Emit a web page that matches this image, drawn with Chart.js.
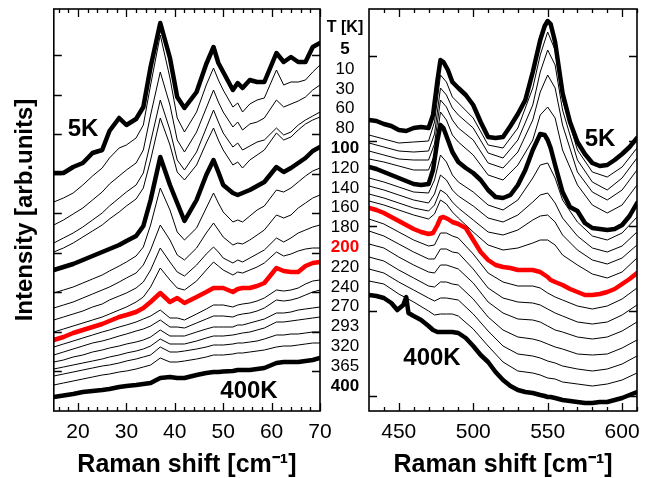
<!DOCTYPE html>
<html><head><meta charset="utf-8">
<script src="https://cdn.jsdelivr.net/npm/chart.js@4.4.1/dist/chart.umd.min.js"></script>
<style>
html,body{margin:0;padding:0;background:#fff;}
#wrap{position:relative;width:658px;height:478px;overflow:hidden;font-family:"Liberation Sans",Arial,Helvetica,sans-serif;color:#000;}
canvas{position:absolute;top:0;}
#c1{left:0}
#c2{left:340px}
.lab{position:absolute;transform:translate(-50%,-50%);white-space:nowrap;line-height:1;}
</style></head><body>
<div id="wrap">
<canvas id="c1" width="345" height="478"></canvas>
<canvas id="c2" width="318" height="478"></canvas>
</div>
<script>
// ---------- data ----------
const temps = ['5','10','30','60','80','100','120','140','160','180','200','220','240','270','293','320','365','400'];

const leftX = [15,17,19,21,23,25,26.5,28.5,30,32,33.5,35,37,39,40.5,42,44.5,46.5,48,49,50,52,53,54,55.5,57,58.5,61,62.5,64,65.5,67,68.5,70];
const L5   = [238,238,244,248,258,261,280,293,286,292,304,344,388,353,314,303,319,347,364,348,339,321,328,323,331,329,329,358,349,354,349,349,364,368];
const L10  = [209,213,218,226,235,243,253,263,266,273,286,326,376,333,293,279,299,326,343,331,321,304,308,299,307,311,313,341,326,329,329,331,339,346];
const L30  = [186,191,197,203,211,219,227,235,241,248,261,296,339,306,271,259,279,303,321,309,299,284,289,281,287,289,293,311,304,307,310,314,321,326];
const L60  = [168,173,178,184,191,198,205,213,219,226,238,269,311,281,251,241,259,283,301,289,278,264,268,261,265,269,271,283,276,279,286,291,295,299];
const L80  = [159,163,168,174,180,186,192,199,205,212,223,251,293,266,239,231,246,268,283,271,261,246,249,243,251,256,261,278,271,274,281,287,291,294];
const L100 = [141,144,147,151,155,159,162,166,170,175,185,211,254,226,208,190,211,236,251,239,226,218,216,218,221,225,229,244,239,243,248,253,260,264];
const L120 = [118,121,124,128,132,136,140,145,149,155,164,186,223,201,179,171,183,203,218,208,199,189,191,189,195,201,205,221,219,223,229,235,240,243];
const L140 = [103,106,109,113,117,121,124,129,133,138,146,161,186,171,156,151,163,178,188,181,174,166,168,167,171,176,181,196,193,196,203,208,213,216];
const L160 = [91,94,97,100,104,107,111,115,118,123,129,141,163,149,139,135,146,157,164,159,153,148,151,149,153,157,161,173,169,173,178,181,184,186];
const L180 = [79,82,85,88,91,94,97,101,104,109,114,124,143,131,123,121,130,141,149,145,141,136,139,138,141,144,148,159,155,157,160,162,163,163];
const L200 = [71,74,78,81,84,87,90,94,96,99,103,109,118,109,113,108,114,119,123,123,123,119,122,123,123,125,128,143,140,139,139,145,148,149];
const L220 = [64,67,70,73,76,79,81,84,86,89,92,95,101,93,93,91,97,102,106,106,106,104,106,107,108,110,113,121,120,121,123,127,130,131];
const L240 = [56,59,62,65,68,70,72,75,77,80,82,85,91,84,84,83,88,92,95,95,95,94,96,97,98,100,103,111,110,111,113,116,119,121];
const L270 = [49,51,54,56,59,61,63,65,67,69,71,74,81,75,75,75,79,82,84,84,84,84,86,86,88,90,92,98,98,99,101,102,103,104];
const L293 = [42,44,46,48,50,52,54,56,58,60,62,65,72,67,67,67,70,73,75,75,75,76,77,78,79,81,83,89,89,90,91,92,93,94];
const L320 = [35,37,39,41,43,45,46,48,50,52,54,56,64,59,59,60,62,64,66,66,66,67,68,68,69,70,72,76,76,77,77,78,79,79];
const L365 = [26,28,30,32,34,36,37,39,40,42,44,46,53,49,49,50,52,54,56,56,56,57,58,58,59,60,61,64,65,65,66,67,68,68];
const L400 = [14,15.5,17,19,20,21,22,24,25,26,27,28,33,34,33,33,36,38,39,39,39.5,40,41,41,41,42,43,48,49,49,49,50,51,53];

const rightX = [430,435,440,445,450,455,460,465,470,473,476,478,480,483,486,490,495,500,505,510,515,520,525,530,535,540,545,548,550,552,555,560,565,570,575,580,585,590,595,600,605,610];
const rightXThin = [430,440,450,460,470,474,478,482,486,490,500,510,520,530,540,545,550,555,560,570,580,590,600,610];
const right400X = [430,435,440,445,449,453,455,456.5,460,465,470,473,476,478,480,483,486,490,495,500,505,510,515,520,525,530,535,540,545,548,550,552,555,560,565,570,575,580,585,590,595,600,605,610];
const R5   = [291,290,287,285,281,280,283,284,283,296,331,351,349,341,329,323,316,306,289,274,273,274,285,297,311,339,371,385,390,387,369,318,289,269,257,248,245,246,251,257,264,273];
const R10  = [276,272,268,269,270,289,336,329,314,308,293,266,263,283,323,356,379,361,311,261,239,234,244,263];
const R30  = [268,264,260,259,260,277,323,316,303,296,283,258,253,271,306,339,361,346,301,251,229,221,233,253];
const R60  = [260,256,252,251,251,267,311,304,291,283,271,248,243,259,291,319,336,323,286,239,219,211,221,241];
const R80  = [252,249,245,241,241,256,299,291,276,269,256,236,231,246,271,296,304,293,261,226,206,198,206,226];
const R100 = [244,242,239,236,233,230,227,226,227,241,271,286,283,271,259,249,243,238,231,221,214,213,216,226,241,261,277,276,271,263,246,219,204,200,188,183,182,181,182,186,195,208];
const R120 = [233,229,224,219,218,231,256,249,236,229,219,206,201,211,233,246,248,233,211,189,175,171,178,194];
const R140 = [225,221,216,211,208,217,236,231,221,215,205,193,189,196,209,216,218,208,193,175,163,159,165,179];
const R160 = [217,213,208,203,200,206,221,217,209,203,191,179,176,181,191,195,196,189,176,161,151,147,153,166];
const R180 = [210,206,201,196,192,197,211,207,199,193,179,166,161,163,168,171,171,166,156,146,137,133,139,153];
const R200 = [203,201,198,194,190,186,182,179,177,178,186,193,194,192,189,187,183,171,159,151,146,144,143,141,141,141,139,136,134,131,129,126,122,119,116,116,117,119,122,127,132,138];
const R220 = [192,187,179,171,165,166,178,178,175,173,157,138,129,125,125,123,118,114,111,105,102,105,112,123];
const R240 = [180,175,167,159,152,152,162,162,159,158,142,123,113,109,108,106,102,98,95,89,87,89,96,106];
const R270 = [167,163,154,146,139,138,146,146,144,142,128,109,98,92,91,89,85,81,79,74,72,74,80,89];
const R293 = [154,150,141,133,125,124,129,129,127,126,112,94,81,74,72,70,67,64,62,57,56,57,63,71];
const R320 = [142,138,129,121,113,110,113,113,112,111,97,80,65,57,55,53,50,48,45,42,40,42,47,55];
const R365 = [130,127,117,109,100,96,97,97,97,95,82,65,49,40,38,36,33,32,29,27,25,27,31,38];
const R400 = [116,115,113,108,101,106,114,98,95,91,85,81,79,79,79,79,79,78,73,65,56,49,39,31,25,21,19,18,16,15,14,14,13,11,10,9,8,8,9,9,11,13,16,19];

const leftXMajor = [20,30,40,50,60,70];
const rightXMajor = [450,500,550,600];
const leftYTicks = [40,79.5,119,158.5,198,237.5,277,316.5,356];
const rightYTicks = [15,100,185,270,355];

const leftList  = [L5,L10,L30,L60,L80,L100,L120,L140,L160,L180,L200,L220,L240,L270,L293,L320,L365,L400];
const rightList = [R5,R10,R30,R60,R80,R100,R120,R140,R160,R180,R200,R220,R240,R270,R293,R320,R365,R400];

// ---------- helpers ----------
const F = '"Liberation Sans", Arial, Helvetica, sans-serif';
function styleFor(t){
  if (t === '200') return {c:'#ff0000', w:4.5, o:0};
  if (t === '5' || t === '100' || t === '400') return {c:'#000000', w:4.5, o:0};
  return {c:'#000000', w:1, o:1};
}
function makeDatasets(list, xsFor){
  return temps.map((t,i)=>{
    const s = styleFor(t), xs = xsFor(t);
    return {label: t+' K', data: list[i].map((y,j)=>({x:xs[j], y:y})),
      borderColor:s.c, backgroundColor:s.c, borderWidth:s.w, order:s.o,
      pointRadius:0, tension:0, fill:false, borderJoinStyle:'round', borderCapStyle:'round'};
  });
}
function minorList(a,b,step){ const r=[]; for(let v=a; v<=b+1e-9; v+=step) r.push(v); return r; }

const framePlugin = {
  id:'frame',
  afterDatasetsDraw(chart, args, opts){
    const {ctx, chartArea:a} = chart; const x = chart.scales.x, y = chart.scales.y;
    ctx.save();
    ctx.strokeStyle = '#000';
    ctx.lineWidth = 1.3;
    ctx.beginPath();
    opts.xMinor.forEach(v=>{ const p = Math.round(x.getPixelForValue(v))+0.5;
      ctx.moveTo(p,a.bottom); ctx.lineTo(p,a.bottom-4); ctx.moveTo(p,a.top); ctx.lineTo(p,a.top+4); });
    opts.xMajor.forEach(v=>{ const p = Math.round(x.getPixelForValue(v))+0.5;
      ctx.moveTo(p,a.bottom); ctx.lineTo(p,a.bottom-8); ctx.moveTo(p,a.top); ctx.lineTo(p,a.top+8); });
    opts.yMajor.forEach(v=>{ const p = Math.round(y.getPixelForValue(v))+0.5;
      ctx.moveTo(a.left,p); ctx.lineTo(a.left+8,p); ctx.moveTo(a.right,p); ctx.lineTo(a.right-8,p); });
    ctx.stroke();
    ctx.lineWidth = 1.6;
    ctx.strokeRect(a.left, a.top, a.right-a.left, a.bottom-a.top);
    ctx.restore();
  }
};

function xScale(min,max,major){
  return {type:'linear', min:min, max:max,
    afterBuildTicks: s => { s.ticks = major.map(v=>({value:v})); },
    grid:{display:false, drawTicks:false}, border:{display:false},
    ticks:{font:{size:21, family:F, lineHeight:1.0}, color:'#000', padding:10.5, maxRotation:0, autoSkip:false},
    title:{display:true, text:'Raman shift [cm\u207B\u00B9]', font:{size:25, weight:'bold', family:F, lineHeight:1.0}, color:'#000', padding:{top:0, bottom:0}}};
}

new Chart(document.getElementById('c1'), {
  type:'line',
  data:{datasets: makeDatasets(leftList, t => leftX)},
  options:{
    responsive:false, animation:false, devicePixelRatio:1,
    layout:{padding:{left:6, right:25, top:9, bottom:0}},
    plugins:{legend:{display:false}, tooltip:{enabled:false},
      frame:{xMajor:leftXMajor, xMinor:minorList(16,70,2), yMajor:leftYTicks}},
    scales:{
      x: xScale(15,70,leftXMajor),
      y:{type:'linear', min:0, max:402, grid:{display:false, drawTicks:false}, border:{display:false},
        ticks:{display:false},
        title:{display:true, text:'Intensity [arb.units]', font:{size:24, weight:'bold', family:F}, color:'#000', padding:{top:5, bottom:14}}}
    }
  },
  plugins:[framePlugin]
});

new Chart(document.getElementById('c2'), {
  type:'line',
  data:{datasets: makeDatasets(rightList, t => (t==='400' ? right400X : (t==='5'||t==='100'||t==='200') ? rightX : rightXThin))},
  options:{
    responsive:false, animation:false, devicePixelRatio:1,
    layout:{padding:{left:29, right:21, top:9, bottom:0}},
    plugins:{legend:{display:false}, tooltip:{enabled:false},
      frame:{xMajor:rightXMajor, xMinor:minorList(440,610,10), yMajor:rightYTicks}},
    scales:{
      x: xScale(430,610,rightXMajor),
      y:{type:'linear', display:false, min:0, max:402}
    }
  },
  plugins:[framePlugin]
});

// ---------- text labels ----------
const wrap = document.getElementById('wrap');
function addLabel(text, x, y, css){
  const d = document.createElement('div'); d.className='lab'; d.textContent=text;
  d.style.left = x+'px'; d.style.top = y+'px'; Object.assign(d.style, css||{});
  wrap.appendChild(d);
}
addLabel('T [K]', 345, 27, {fontSize:'16px', fontWeight:'bold'});
temps.forEach((t,i)=>{
  const s = styleFor(t);
  addLabel(t, 345, 48 + i*19.8, {fontSize:'17px', fontWeight: s.w>2 ? 'bold':'normal', color: t==='200' ? '#ff0000' : '#000'});
});
addLabel('5K', 83, 128, {fontSize:'24px', fontWeight:'bold'});
addLabel('400K', 249, 390, {fontSize:'24px', fontWeight:'bold'});
addLabel('5K', 600, 138, {fontSize:'24px', fontWeight:'bold'});
addLabel('400K', 432, 357, {fontSize:'24px', fontWeight:'bold'});
</script>
</body></html>
